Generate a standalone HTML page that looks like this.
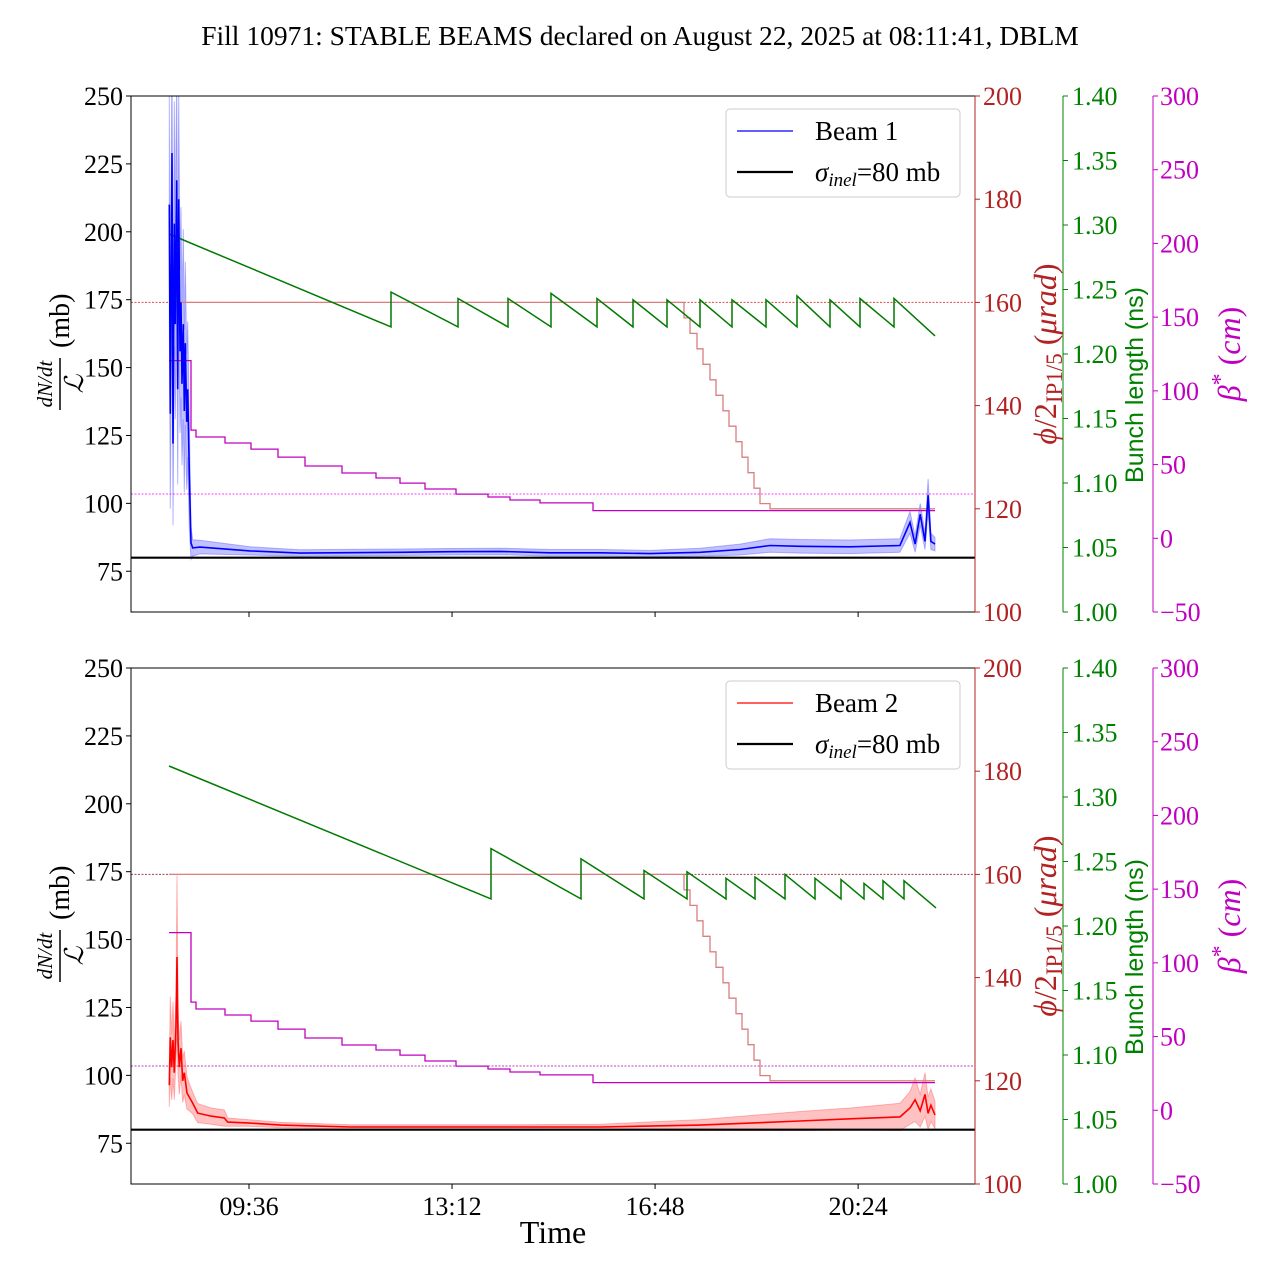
<!DOCTYPE html>
<html><head><meta charset="utf-8">
<style>
html,body{margin:0;padding:0;background:#fff;}
svg{display:block;font-family:"Liberation Serif",serif;}
</style></head>
<body>
<svg id="chart" width="1280" height="1280" viewBox="0 0 1280 1280" xmlns="http://www.w3.org/2000/svg">
<text x="640" y="45" text-anchor="middle" font-size="27.5">Fill 10971: STABLE BEAMS declared on August 22, 2025 at 08:11:41, DBLM</text>
</svg>
<script>
// ---- data (times in hours) ----
const xTickLabels = ["09:36","13:12","16:48","20:24"];
const xTickTimes = [9.6,13.2,16.8,20.4];
const leftTicks = [75,100,125,150,175,200,225,250];
const phiTicks = [100,120,140,160,180,200];
const blTicks = [1.00,1.05,1.10,1.15,1.20,1.25,1.30,1.35,1.40];
const betaTicks = [-50,0,50,100,150,200,250,300];

const beam1T = [8.187,8.205,8.235,8.252,8.276,8.293,8.318,8.336,8.354,8.377,8.394,8.412,8.435,8.453,8.471,8.495,8.513,8.541,8.572,8.602,8.731,9.618,10.504,12.277,13.164,14.05,14.937,15.823,16.71,17.596,18.305,18.837,19.37,20.256,21.14,21.32,21.41,21.5,21.585,21.64,21.69,21.763];
const beam1V = [210,133,229,122,203,166,219,142,212,156,174,144,166,134,159,130,142,111,85.4,83.6,83.9,82.5,81.7,82,82.2,82.3,81.8,81.8,81.5,82,83,84.5,84.2,84,84.5,93,85,96,86,103,86,85];
const beam1W = [40,35,40,30,45,35,40,35,40,30,35,30,35,30,30,25,25,20,6,3,2.5,1.5,1.2,1.2,1.2,1.2,1.2,1.2,1.2,1.5,2,2.5,2.5,2.5,2.5,4,3,4,3,6,3,2.5];

const beam2T = [8.187,8.205,8.229,8.252,8.276,8.306,8.323,8.341,8.364,8.394,8.424,8.453,8.501,8.541,8.602,8.690,8.926,9.162,9.222,9.577,10.167,11.391,14.05,15.823,17.596,19.37,20.256,21.143,21.32,21.41,21.5,21.585,21.64,21.69,21.763];
const beam2V = [96.4,114,103,113,101,118,143.6,113,103,110,98,101,93.5,92,89.8,86.1,85,84.3,82.8,82.5,81.7,81,81,81,81.7,83.2,84,84.7,88,91,87,93,86,89,85.4];
const beam2W = [8,15,12,14,10,12,30,12,10,10,8,8,6,5,4,3.5,3,3,1.5,1.2,1,0.8,0.8,1,2,3.5,4,5,6,8,6,8,6,6,5];

const phiT = [8.182,17.313,17.419,17.543,17.650,17.774,17.880,18.004,18.111,18.235,18.341,18.447,18.554,18.660,18.837,21.763];
const phiV = [160,157,154,151,148,145,142,139,136,133,130,127,124,121,120,120];

const betaT = [8.182,8.572,8.660,9.174,9.635,10.114,10.593,11.249,11.852,12.277,12.721,13.270,13.838,14.228,14.760,15.699,21.763];
const betaV = [120.5,73.4,68.7,64.6,60.5,55.1,49.0,44.3,40.9,37.4,33.4,30.0,28.0,26.0,24.0,18.8,18.8];

const bl1T = [8.182,12.118,12.118,13.306,13.306,14.192,14.192,14.955,14.955,15.770,15.770,16.409,16.409,17.011,17.011,17.596,17.596,18.164,18.164,18.767,18.767,19.316,19.316,19.901,19.901,20.433,20.433,21.036,21.036,21.763];
const bl1V = [1.293,1.221,1.248,1.221,1.243,1.221,1.243,1.221,1.247,1.221,1.243,1.221,1.242,1.221,1.242,1.221,1.242,1.221,1.242,1.221,1.242,1.221,1.245,1.221,1.242,1.221,1.243,1.221,1.243,1.214];

const bl2T = [8.182,13.891,13.891,15.487,15.487,16.604,16.604,17.366,17.366,18.057,18.057,18.571,18.571,19.103,19.103,19.635,19.635,20.096,20.096,20.504,20.504,20.841,20.841,21.213,21.213,21.78];
const bl2V = [1.324,1.221,1.260,1.221,1.252,1.221,1.243,1.221,1.242,1.221,1.237,1.221,1.238,1.221,1.240,1.221,1.237,1.221,1.236,1.221,1.233,1.221,1.235,1.221,1.235,1.214];

const sigmaRef = 80;
const phiRef = 160;
const betaRef = 30;

// ---- drawing ----
const svg = document.getElementById('chart');
const NS = 'http://www.w3.org/2000/svg';
function mk(tag, attrs, parent){
  const e = document.createElementNS(NS, tag);
  for (const k in attrs) e.setAttribute(k, attrs[k]);
  (parent||svg).appendChild(e);
  return e;
}
const X0 = 131, X1 = 975, H = 516;
const FS = 26;
function xs(t){ return 249 + (t - 9.6) * 56.4; }

function pathLine(T, V, ys){
  return T.map((t,i)=>(i?'L':'M')+xs(t).toFixed(1)+','+ys(V[i]).toFixed(1)).join('');
}
function pathStep(T, V, ys){
  let d = 'M'+xs(T[0]).toFixed(1)+','+ys(V[0]).toFixed(1);
  for (let i=1;i<T.length;i++){
    d += 'L'+xs(T[i]).toFixed(1)+','+ys(V[i-1]).toFixed(1);
    d += 'L'+xs(T[i]).toFixed(1)+','+ys(V[i]).toFixed(1);
  }
  return d;
}

function panel(idx, y0, bT, bV, bW, col, bandCol, beamLabel, gT, gV, phiRefCol, betaRefCol, showXLabels){
  const yL = v => y0 + H - (v - 60) * H / 190;
  const yR = p => y0 + H - (p - 100) * H / 100;
  const yG = g => y0 + H - (g - 1) * H / 0.4;
  const yM = b => y0 + H - (b + 50) * H / 350;
  const g = mk('g', {});
  
  
  const clip = mk('clipPath', {id:'clip'+idx}, g);
  mk('rect', {x:X0, y:y0, width:X1-X0, height:H}, clip);
  const plot = mk('g', {'clip-path':'url(#clip'+idx+')'}, g);

  const rl1 = mk('line', {x1:X0, x2:X1, y1:yR(phiRef), y2:yR(phiRef), stroke:phiRefCol, 'stroke-width':1, 'stroke-dasharray':'2,1.5'}, plot);
  
  
  const rl2 = mk('line', {x1:X0, x2:X1, y1:yM(betaRef), y2:yM(betaRef), stroke:betaRefCol, 'stroke-width':1, 'stroke-dasharray':'2,1.5'}, plot);
  
  

  let up = bT.map((t,i)=>xs(t).toFixed(1)+','+yL(bV[i]+bW[i]).toFixed(1));
  let dn = bT.map((t,i)=>xs(t).toFixed(1)+','+yL(bV[i]-bW[i]).toFixed(1)).reverse();
  const band = mk('polygon', {points: up.concat(dn).join(' '), fill:bandCol, 'fill-opacity':0.35, stroke:bandCol, 'stroke-opacity':0.4, 'stroke-width':1}, plot);
  
  

  const ph = mk('path', {d:pathStep(phiT, phiV, yR), fill:'none', stroke:'#d98080', 'stroke-width':1.3}, plot);
  
  
  const bt = mk('path', {d:pathStep(betaT, betaV, yM), fill:'none', stroke:'#c000c0', 'stroke-width':1.3}, plot);
  
  
  const bl = mk('path', {d:pathLine(gT, gV, yG), fill:'none', stroke:'#007a00', 'stroke-width':1.5}, plot);
  
  
  const bm = mk('path', {d:pathLine(bT, bV, yL), fill:'none', stroke:col, 'stroke-width':1.6}, plot);
  
  
  const sl = mk('line', {x1:X0, x2:X1, y1:yL(sigmaRef), y2:yL(sigmaRef), stroke:'#000', 'stroke-width':2.2}, plot);
  
  

  const fr = mk('rect', {x:X0, y:y0, width:X1-X0, height:H, fill:'none', stroke:'#000', 'stroke-width':1}, g);
  
  
  mk('line', {x1:X1, x2:X1, y1:y0, y2:y0+H, stroke:'#b22222', 'stroke-width':1}, g);
  mk('line', {x1:1063, x2:1063, y1:y0, y2:y0+H, stroke:'#008000', 'stroke-width':1}, g);
  mk('line', {x1:1153, x2:1153, y1:y0, y2:y0+H, stroke:'#c000c0', 'stroke-width':1}, g);

  leftTicks.forEach(v=>{
    const y = yL(v);
    mk('line', {x1:X0-5, x2:X0, y1:y, y2:y, stroke:'#000'}, g);
    const t = mk('text', {x:X0-8, y:y+9, 'text-anchor':'end', 'font-size':FS}, g);
    t.textContent = v;
    
    
  });
  phiTicks.forEach(v=>{
    const y = yR(v);
    mk('line', {x1:X1, x2:X1+5, y1:y, y2:y, stroke:'#b22222'}, g);
    const t = mk('text', {x:X1+8, y:y+9, 'font-size':FS, fill:'#b22222'}, g);
    t.textContent = v;
    
    
  });
  blTicks.forEach(v=>{
    const y = yG(v);
    mk('line', {x1:1063, x2:1068, y1:y, y2:y, stroke:'#008000'}, g);
    const t = mk('text', {x:1072, y:y+9, 'font-size':FS, fill:'#008000'}, g);
    t.textContent = v.toFixed(2);
    
    
  });
  betaTicks.forEach(v=>{
    const y = yM(v);
    mk('line', {x1:1153, x2:1158, y1:y, y2:y, stroke:'#c000c0'}, g);
    const t = mk('text', {x:1160, y:y+9, 'font-size':FS, fill:'#c000c0'}, g);
    t.textContent = (v<0?'\u2212'+(-v):v);
    
    
  });
  xTickTimes.forEach((tt,i)=>{
    const x = xs(tt);
    mk('line', {x1:x, x2:x, y1:y0+H, y2:y0+H+5, stroke:'#000'}, g);
    if (showXLabels){
      const t = mk('text', {x:x, y:y0+H+31, 'text-anchor':'middle', 'font-size':FS}, g);
      t.textContent = xTickLabels[i];
      
      
    }
  });

  const cy = y0 + H/2;
  const yl = mk('g', {transform:'translate(60,'+cy+') rotate(-90)'}, g);
  
  
  let t1 = mk('text', {x:-30, y:-8, 'text-anchor':'middle', 'font-size':21, 'font-style':'italic'}, yl); t1.textContent = 'dN/dt';
  mk('line', {x1:-56, x2:-4, y1:0, y2:0, stroke:'#000', 'stroke-width':1.5}, yl);
  let t2 = mk('text', {x:-30, y:23, 'text-anchor':'middle', 'font-size':26, 'font-style':'italic'}, yl); t2.textContent = '\u2112';
  let t3 = mk('text', {x:6, y:9, 'font-size':28}, yl); t3.textContent = '(mb)';

  const pl = mk('text', {transform:'translate(1056,'+cy+') rotate(-90)', 'text-anchor':'middle', 'font-size':32, fill:'#b22222'}, g);
  
  
  pl.innerHTML = '<tspan font-style="italic">\u03d5</tspan>/2<tspan font-size="23" dy="6">IP1/5</tspan><tspan dy="-6"> (</tspan><tspan font-style="italic">\u03bcrad</tspan>)';
  const gl = mk('text', {transform:'translate(1143,'+(cy+31)+') rotate(-90)', 'text-anchor':'middle', 'font-size':25, fill:'#008000', 'font-family':'Liberation Sans, sans-serif'}, g);
  
  
  gl.textContent = 'Bunch length (ns)';
  const ml = mk('text', {transform:'translate(1240,'+cy+') rotate(-90)', 'text-anchor':'middle', 'font-size':32, fill:'#c000c0'}, g);
  
  
  ml.innerHTML = '<tspan font-style="italic">\u03b2</tspan><tspan font-size="24" dy="-12">*</tspan><tspan dy="12"> (</tspan><tspan font-style="italic">cm</tspan>)';

  const lg = mk('g', {}, g);
  
  
  mk('rect', {x:726, y:y0+13, width:234, height:88, rx:4, fill:'#fff', 'fill-opacity':0.85, stroke:'#ccc'}, lg);
  mk('line', {x1:737, x2:793, y1:y0+35, y2:y0+35, stroke:col, 'stroke-width':1.2}, lg);
  const le1 = mk('text', {x:815, y:y0+44, 'font-size':27}, lg); le1.textContent = beamLabel;
  
  
  mk('line', {x1:737, x2:793, y1:y0+76, y2:y0+76, stroke:'#000', 'stroke-width':2.2}, lg);
  const le2 = mk('text', {x:815, y:y0+85, 'font-size':27}, lg);
  le2.innerHTML = '<tspan font-style="italic">\u03c3</tspan><tspan font-style="italic" font-size="19" dy="5">inel</tspan><tspan dy="-5">=80 mb</tspan>';
  
  
}

panel(1, 96, beam1T, beam1V, beam1W, '#0000ff', '#4d4dff', 'Beam 1', bl1T, bl1V, '#e04848', '#ff40ff', false);
panel(2, 668, beam2T, beam2V, beam2W, '#ff0000', '#ff5050', 'Beam 2', bl2T, bl2V, '#a04050', '#c040c0', true);

const xt = mk('text', {x:553, y:1243, 'text-anchor':'middle', 'font-size':32});
xt.textContent = 'Time';


</script>
</body></html>
